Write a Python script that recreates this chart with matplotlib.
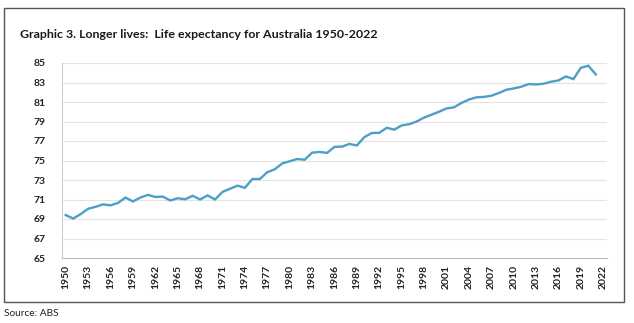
import numpy as np
import matplotlib
matplotlib.use('Agg')
import matplotlib.pyplot as plt
from matplotlib.patches import Rectangle

plt.rcParams['font.family'] = ['Lato', 'DejaVu Sans']

years = list(range(1950, 2022))
life_exp = [69.4, 69.05, 69.5, 70.05, 70.25, 70.5, 70.4, 70.65, 71.2, 70.8,
            71.2, 71.47, 71.26, 71.3, 70.9, 71.13, 71.02, 71.38, 71.0, 71.42,
            71.0, 71.78, 72.1, 72.42, 72.2, 73.1, 73.1, 73.8, 74.1, 74.7,
            74.92, 75.15, 75.08, 75.8, 75.88, 75.78, 76.4, 76.42, 76.7, 76.54,
            77.4, 77.82, 77.84, 78.36, 78.16, 78.6, 78.72, 79.0, 79.4, 79.7,
            80.0, 80.34, 80.45, 80.9, 81.25, 81.48, 81.52, 81.64, 81.92, 82.25,
            82.39, 82.56, 82.84, 82.8, 82.87, 83.08, 83.21, 83.62, 83.35, 84.51,
            84.72, 83.83]
xtick_years = list(range(1950, 2023, 3))
ytick_vals = list(range(65, 86, 2))

title = 'Graphic 3. Longer lives:  Life expectancy for Australia 1950-2022'
source = 'Source: ABS'

fig = plt.figure(figsize=(6.34, 3.23), dpi=100)
ax = fig.add_axes([62/634, 1-258/323, 545/634, 195/323])

ax.plot(years, life_exp, color='#4c9fc6', lw=1.7, solid_joinstyle='miter')

ax.set_xlim(1949.5, 2022.5)
ax.set_ylim(65, 85)
ax.set_yticks(ytick_vals)
ax.set_xticks(xtick_years)
ax.set_xticklabels([str(y) for y in xtick_years], rotation=90)
ax.grid(axis='y', color='#e3e3e3', lw=0.8)
ax.set_axisbelow(True)
for s in ['top', 'right']:
    ax.spines[s].set_visible(False)
ax.spines['left'].set_color('#cfcfcf')
ax.spines['bottom'].set_color('#bdbdbd')
ax.tick_params(axis='both', length=0, colors='#222222', labelsize=7.5)
ax.tick_params(axis='y', pad=12)
ax.tick_params(axis='x', pad=5)
for lab in ax.get_xticklabels() + ax.get_yticklabels():
    lab.set_fontweight('bold')

fig.patches.append(Rectangle((4/634, 1-302/323), 620/634, 294/323,
                             transform=fig.transFigure, fill=False,
                             edgecolor='#555555', lw=1))
fig.text(20/634, 1-34/323, title, fontsize=8.9, fontweight='bold',
         color='#1a1a1a', va='center', ha='left')
fig.text(4/634, 1-314/323, source, fontsize=7.3, color='#222222',
         va='center', ha='left')

fig.savefig('out.png', dpi=100)
